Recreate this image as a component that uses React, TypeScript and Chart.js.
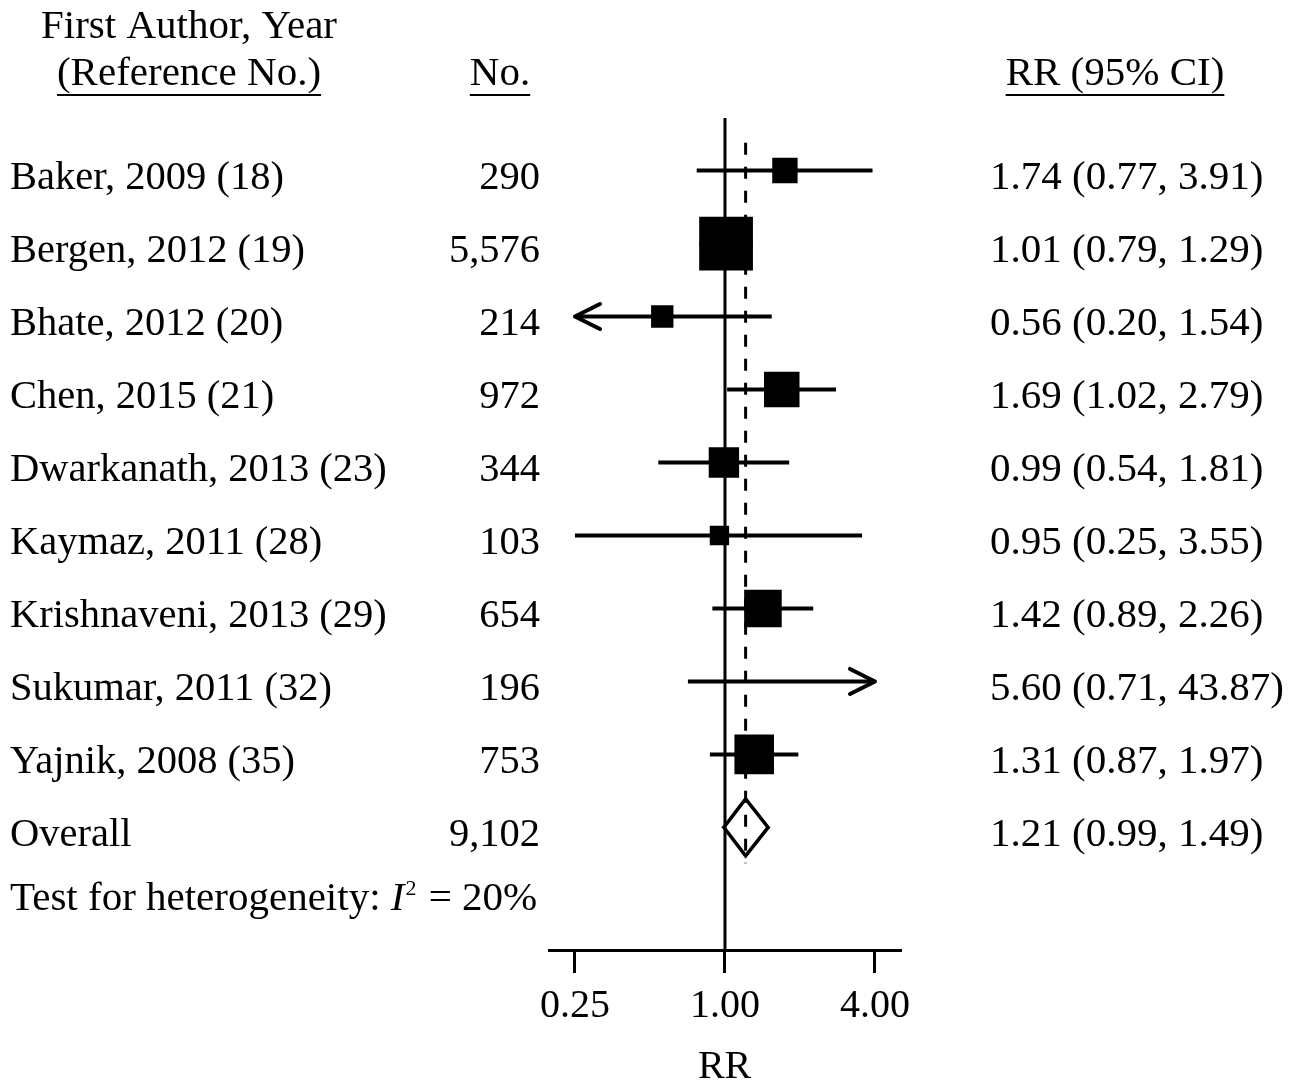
import { useEffect, useRef } from "react";
import { Chart, registerables } from "chart.js";

Chart.register(...registerables);

// ---------------- data ----------------
const studies = [
  "Baker, 2009 (18)",
  "Bergen, 2012 (19)",
  "Bhate, 2012 (20)",
  "Chen, 2015 (21)",
  "Dwarkanath, 2013 (23)",
  "Kaymaz, 2011 (28)",
  "Krishnaveni, 2013 (29)",
  "Sukumar, 2011 (32)",
  "Yajnik, 2008 (35)",
];
const sampleSizes = ["290", "5,576", "214", "972", "344", "103", "654", "196", "753"];
const rr = [1.74, 1.01, 0.56, 1.69, 0.99, 0.95, 1.42, 5.6, 1.31];
const ciLower = [0.77, 0.79, 0.2, 1.02, 0.54, 0.25, 0.89, 0.71, 0.87];
const ciUpper = [3.91, 1.29, 1.54, 2.79, 1.81, 3.55, 2.26, 43.87, 1.97];
// study weights (%)
const weights = [6.7, 30.1, 5.2, 13.1, 9.6, 3.9, 14.7, 0.6, 16.3];

const overallLabel = "Overall";
const overallN = "9,102";
const overallRR = [1.21];
const overallLower = [0.99];
const overallUpper = [1.49];
const heterogeneityI2 = "20%";

const xTicks = [0.25, 1, 4];
const xMin = 0.197;
const xMax = 5.04;

// ---------------- style / layout ----------------
const W = 1298;
const H = 1082;
const FAMILY = "'Liberation Serif', 'Times New Roman', Times, serif";
const HEADER_SIZE = 41;
const TEXT_SIZE = 40.5;
const RR_TEXT_SIZE = 41;
const BOX_SCALE = 9.8; // px side per sqrt(weight)
const Y_MIN = -0.72;
const Y_MAX = 10.68;
const DIAMOND_HALF = 0.39;
const REF_TOP = -0.38;
const REF_BOTTOM_OFFSET = 0.49;

const fmt = (v: number) => v.toFixed(2);

export default function App() {
  const ref = useRef<HTMLCanvasElement | null>(null);

  useEffect(() => {
    const canvas = ref.current;
    if (!canvas) return;
    const nStudies = studies.length;
    const overallRow = nStudies;
    const lo = xTicks[0];
    const hi = xTicks[xTicks.length - 1];

    const ciDatasets = studies.map((_, i) => ({
      type: "line" as const,
      label: "ci" + i,
      data: [
        { x: Math.max(ciLower[i], lo), y: i },
        { x: Math.min(ciUpper[i], hi), y: i },
      ],
      borderColor: "#000",
      borderWidth: 4,
      borderCapStyle: "butt" as const,
      pointRadius: 0,
      fill: false,
      order: 3,
    }));

    const datasets: any[] = [
      {
        type: "line",
        label: "boxes",
        data: rr.map((v, i) => ({ x: v, y: i })),
        showLine: false,
        pointStyle: "rect",
        pointRadius: weights.map((w) => (BOX_SCALE * Math.sqrt(w)) / Math.SQRT2),
        pointBackgroundColor: "#000",
        pointBorderWidth: 0,
        pointBorderColor: "#000",
        order: 0,
      },
      {
        type: "line",
        label: "diamond",
        data: [
          { x: overallLower[0], y: overallRow },
          { x: overallRR[0], y: overallRow - DIAMOND_HALF },
          { x: overallUpper[0], y: overallRow },
          { x: overallRR[0], y: overallRow + DIAMOND_HALF },
          { x: overallLower[0], y: overallRow },
        ],
        borderColor: "#000",
        borderWidth: 3.5,
        borderJoinStyle: "miter",
        borderCapStyle: "square",
        pointRadius: 0,
        fill: false,
        order: 1,
      },
      {
        type: "line",
        label: "overall",
        data: [
          { x: overallRR[0], y: REF_TOP },
          { x: overallRR[0], y: overallRow + REF_BOTTOM_OFFSET },
        ],
        borderColor: "#000",
        borderWidth: 3,
        borderDash: [12, 12],
        pointRadius: 0,
        fill: false,
        order: 2,
      },
      ...ciDatasets,
      {
        type: "line",
        label: "null",
        data: [
          { x: 1, y: Y_MIN },
          { x: 1, y: Y_MAX },
        ],
        borderColor: "#000",
        borderWidth: 3,
        pointRadius: 0,
        fill: false,
        order: 4,
      },
    ];

    const arrowPlugin = {
      id: "arrows",
      afterDatasetsDraw(chart: any) {
        const { ctx, scales } = chart;
        const xs = scales.x;
        const ys = scales.y;
        ctx.save();
        ctx.strokeStyle = "#000";
        ctx.lineWidth = 4;
        ctx.lineCap = "round";
        ctx.lineJoin = "round";
        const arm = 25;
        const half = 12.5;
        studies.forEach((_, i) => {
          const y = ys.getPixelForValue(i);
          if (ciLower[i] < lo) {
            const x = xs.getPixelForValue(lo);
            ctx.beginPath();
            ctx.moveTo(x + arm, y - half);
            ctx.lineTo(x, y);
            ctx.lineTo(x + arm, y + half);
            ctx.stroke();
          }
          if (ciUpper[i] > hi) {
            const x = xs.getPixelForValue(hi);
            ctx.beginPath();
            ctx.moveTo(x - arm, y - half);
            ctx.lineTo(x, y);
            ctx.lineTo(x - arm, y + half);
            ctx.stroke();
          }
        });
        ctx.restore();
      },
    };

    const textPlugin = {
      id: "forestText",
      afterDraw(chart: any) {
        const { ctx, scales } = chart;
        const ys = scales.y;
        const f = (size: number, style = "") => `${style} ${size}px ${FAMILY}`;
        ctx.save();
        ctx.fillStyle = "#000";
        ctx.textBaseline = "alphabetic";

        const colLeft = 10;
        const colN = 540;
        const colRR = 990;
        const baseOff = 18.5;

        // headers
        ctx.font = f(HEADER_SIZE);
        const underline = (text: string, x: number, y: number, align: CanvasTextAlign) => {
          ctx.textAlign = align;
          ctx.fillText(text, x, y);
          const w = ctx.measureText(text).width;
          const x0 = align === "center" ? x - w / 2 : align === "right" ? x - w : x;
          ctx.fillRect(x0, y + 9, w, 2);
        };
        ctx.textAlign = "center";
        ctx.fillText("First Author, Year", 189, 38);
        underline("(Reference No.)", 189, 85, "center");
        underline("No.", 500, 85, "center");
        underline("RR (95% CI)", 1115, 85, "center");

        const rowsText = [...studies, overallLabel];
        const rowsN = [...sampleSizes, overallN];
        const rowsRR = [
          ...rr.map((v, i) => `${fmt(v)} (${fmt(ciLower[i])}, ${fmt(ciUpper[i])})`),
          `${fmt(overallRR[0])} (${fmt(overallLower[0])}, ${fmt(overallUpper[0])})`,
        ];
        rowsText.forEach((t, i) => {
          const y = ys.getPixelForValue(i) + baseOff;
          ctx.font = f(TEXT_SIZE);
          ctx.textAlign = "left";
          ctx.fillText(t, colLeft, y);
          ctx.textAlign = "right";
          ctx.fillText(rowsN[i], colN, y);
          ctx.font = f(RR_TEXT_SIZE);
          ctx.textAlign = "left";
          ctx.fillText(rowsRR[i], colRR, y);
        });

        // heterogeneity
        const hy = ys.getPixelForValue(rowsText.length - 1 + 0.877) + baseOff;
        ctx.textAlign = "left";
        let x = colLeft;
        const p1 = "Test for heterogeneity: ";
        ctx.font = f(HEADER_SIZE);
        ctx.fillText(p1, x, hy);
        x += ctx.measureText(p1).width;
        ctx.font = f(HEADER_SIZE, "italic");
        ctx.fillText("I", x, hy);
        x += ctx.measureText("I").width + 1;
        ctx.font = f(22);
        ctx.fillText("2", x, hy - 15);
        x += ctx.measureText("2").width + 2;
        ctx.font = f(HEADER_SIZE);
        ctx.fillText(" = " + heterogeneityI2, x, hy);
        ctx.restore();
      },
    };

    const chart = new Chart(canvas, {
      type: "line",
      data: { datasets },
      options: {
        animation: false,
        responsive: false,
        devicePixelRatio: 1,
        events: [],
        layout: { padding: { left: 549.2, right: 398, top: 118, bottom: 0 } },
        plugins: {
          legend: { display: false },
          tooltip: { enabled: false },
        },
        scales: {
          x: {
            type: "logarithmic",
            position: "bottom",
            min: xMin,
            max: xMax,
            afterBuildTicks: (s: any) => {
              s.ticks = xTicks.map((v) => ({ value: v }));
            },
            afterFit: (s: any) => {
              s.height = 132;
            },
            ticks: {
              autoSkip: false,
              maxRotation: 0,
              color: "#000",
              padding: 9.5,
              font: { family: FAMILY, size: 40, lineHeight: 1.2 },
              callback: (v: any) => Number(v).toFixed(2),
            },
            grid: {
              display: true,
              drawOnChartArea: false,
              drawTicks: true,
              tickLength: 23,
              color: "#000",
              lineWidth: 3,
            },
            border: { display: true, color: "#000", width: 3 },
            title: {
              display: true,
              text: "RR",
              color: "#000",
              padding: 0,
              font: { family: FAMILY, size: 40, lineHeight: 0.725 },
            },
          },
          y: {
            type: "linear",
            display: false,
            reverse: true,
            min: Y_MIN,
            max: Y_MAX,
          },
        },
      } as any,
      plugins: [arrowPlugin, textPlugin],
    });

    return () => chart.destroy();
  }, []);

  return (
    <div style={{ position: "absolute", left: 0, top: 0, width: W, height: H, background: "#fff" }}>
      <canvas ref={ref} width={W} height={H} style={{ display: "block", width: W, height: H }} />
    </div>
  );
}
